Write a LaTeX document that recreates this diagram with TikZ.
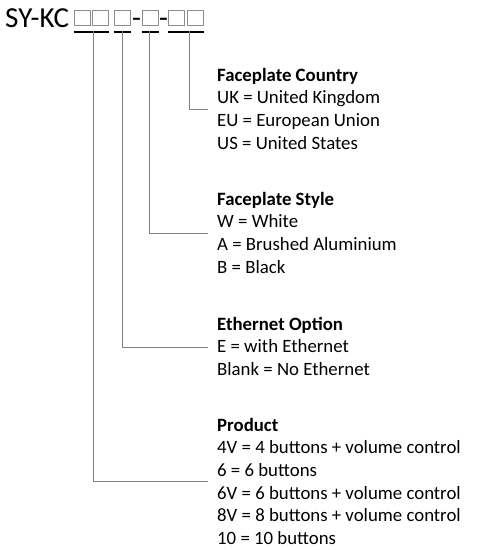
\documentclass[tikz,border=0pt]{standalone}
\usepackage{fontspec}
\setmainfont{Carlito}
\usetikzlibrary{positioning}

\begin{document}
\begin{tikzpicture}[x=1pt,y=-1pt,line join=round,
  titletext/.style={inner sep=0pt,font=\fontsize{29}{31}\selectfont},
  heading/.style={anchor=base west,inner sep=0pt,font=\bfseries\fontsize{18.8}{22}\selectfont},
  entry/.style={anchor=base west,inner sep=0pt,font=\fontsize{18.8}{22}\selectfont},
  slot/.style={draw=black!45,line width=0.9pt,minimum width=16pt,minimum height=15pt,inner sep=0pt,anchor=north west},
  underline/.style={line width=2.2pt,black},
  leader/.style={draw=black!50,line width=1pt}]
\useasboundingbox (0,0) rectangle (477,550);
% part number
\node[titletext,anchor=base west] (code) at (5,27) {SY-KC};
\foreach \x/\n in {74/1,92/2,114/3,142/4,168/5,187/6}
  \node[slot] (box\n) at (\x,10) {};
\node[titletext,anchor=base] (dash1) at (136.5,27) {-};
\node[titletext,anchor=base] (dash2) at (163.5,27) {-};
% underlines
\draw[underline] ([yshift=-6pt]box1.south west) -- ([yshift=-6pt]box2.south east);
\draw[underline] ([yshift=-6pt]box3.south west) -- ([yshift=-6pt]box3.south east);
\draw[underline] ([yshift=-6pt]box4.south west) -- ([yshift=-6pt]box4.south east);
\draw[underline] ([yshift=-6pt]box5.south west) -- ([yshift=-6pt]box6.south east);
% legend
\node[heading] (country) at (217,81) {Faceplate Country};
\foreach \txt [count=\i] in {UK = United Kingdom, EU = European Union, US = United States}
  \node[entry] (country\i) at (217,{81+22.7*\i}) {\txt};
\node[heading] (style) at (217,205) {Faceplate Style};
\foreach \txt [count=\i] in {W = White, A = Brushed Aluminium, B = Black}
  \node[entry] (style\i) at (217,{205+22.7*\i}) {\txt};
\node[heading] (ether) at (217,330) {Ethernet Option};
\foreach \txt [count=\i] in {E = with Ethernet, Blank = No Ethernet}
  \node[entry] (ether\i) at (217,{330+22.7*\i}) {\txt};
\node[heading] (product) at (217,431) {Product};
\foreach \txt [count=\i] in {4V = 4 buttons + volume control, 6 = 6 buttons, 6V = 6 buttons + volume control, 8V = 8 buttons + volume control, 10 = 10 buttons}
  \node[entry] (product\i) at (217,{431+22.7*\i}) {\txt};
% leaders
\coordinate (tickP) at (93,31);
\coordinate (tickE) at (122,31);
\coordinate (tickS) at (149,31);
\coordinate (tickC) at (189.5,31);
\coordinate (endP) at (208,481);
\coordinate (endE) at (208,347);
\coordinate (endS) at (208,233);
\coordinate (endC) at (208,109);
\draw[leader] (tickP) |- (endP);
\draw[leader] (tickE) |- (endE);
\draw[leader] (tickS) |- (endS);
\draw[leader] (tickC) |- (endC);
\end{tikzpicture}
\end{document}
